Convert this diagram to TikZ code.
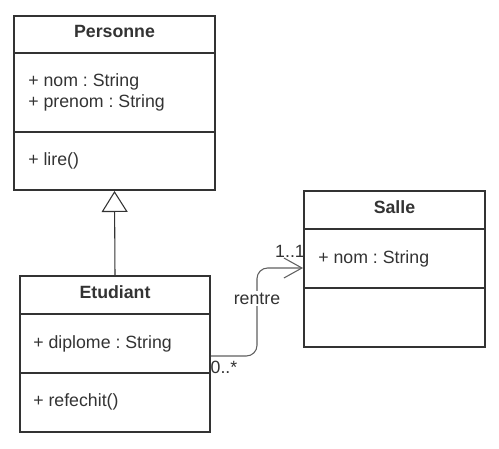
\documentclass[tikz,border=0pt]{standalone}
\usepackage{fontspec}
\setmainfont{Liberation Sans}
\frenchspacing
\definecolor{ink}{RGB}{51,51,51}
\definecolor{wire}{RGB}{95,95,95}
\usepackage{tikz}
\usetikzlibrary{arrows.meta,fit,calc}

\begin{document}
\begin{tikzpicture}[x=0.75pt, y=-0.75pt,
    every node/.style={font=\fontsize{13.3}{15}\selectfont, text=ink, inner sep=0pt},
    classbox/.style={draw=ink, line width=1.5pt, inner sep=0pt},
    divider/.style={draw=ink, line width=1.5pt},
    title/.style={font=\fontsize{13.3}{15}\selectfont\bfseries, anchor=base},
    member/.style={anchor=base west},
    mult/.style={anchor=base},
    inherit/.style={draw=ink, line width=0.8pt, -{Triangle[open, length=15.75pt, width=19.5pt, fill=white]}},
    assoc/.style={draw=wire, line width=0.8pt, rounded corners=8pt, -{Straight Barb[length=13.5pt, width=15pt]}}]
        \useasboundingbox (0,0) rectangle (499,449);
        \node[classbox, fit={(14,16) (215,190)}] (personneBox) {};
        \draw[divider] (personneBox.west |- 0,53) -- (personneBox.east |- 0,53);
        \draw[divider] (personneBox.west |- 0,132) -- (personneBox.east |- 0,132);
        \node[title] (personne) at (114.5,38) {Personne};
        \node[member] (personneNom) at (28,87) {+ nom : String};
        \node[member] (personnePrenom) at (28,108) {+ prenom : String};
        \node[member] (personneLire) at (28,166) {+ lire()};
        \node[classbox, fit={(20,276) (210,432)}] (etudiantBox) {};
        \draw[divider] (etudiantBox.west |- 0,314) -- (etudiantBox.east |- 0,314);
        \draw[divider] (etudiantBox.west |- 0,373) -- (etudiantBox.east |- 0,373);
        \node[title] (etudiant) at (115,298) {Etudiant};
        \node[member] (etudiantDiplome) at (33,348) {+ diplome : String};
        \node[member] (etudiantRefechit) at (33,406) {+ refechit()};
        \node[classbox, fit={(304,191) (485,347)}] (salleBox) {};
        \draw[divider] (salleBox.west |- 0,229) -- (salleBox.east |- 0,229);
        \draw[divider] (salleBox.west |- 0,288) -- (salleBox.east |- 0,288);
        \node[title] (salle) at (394.5,213) {Salle};
        \node[member] (salleNom) at (318,263) {+ nom : String};
        \draw[inherit] (etudiantBox.north) -- (personneBox.south);
        \coordinate (rentreFrom) at (etudiantBox.east |- 0,356);
        \coordinate (rentreTo) at (salleBox.west |- 0,268);
        \draw[assoc] (rentreFrom) -| ($(rentreFrom)!0.5!(rentreTo)$) |- (rentreTo);
        \node[mult, fill=white, inner sep=1.5pt] (rentre) at (257,304) {rentre};
        \node[mult] (multSalle) at (290,257) {1..1};
        \node[mult] (multEtudiant) at (224,373) {0..*};
      \end{tikzpicture}
\end{document}
